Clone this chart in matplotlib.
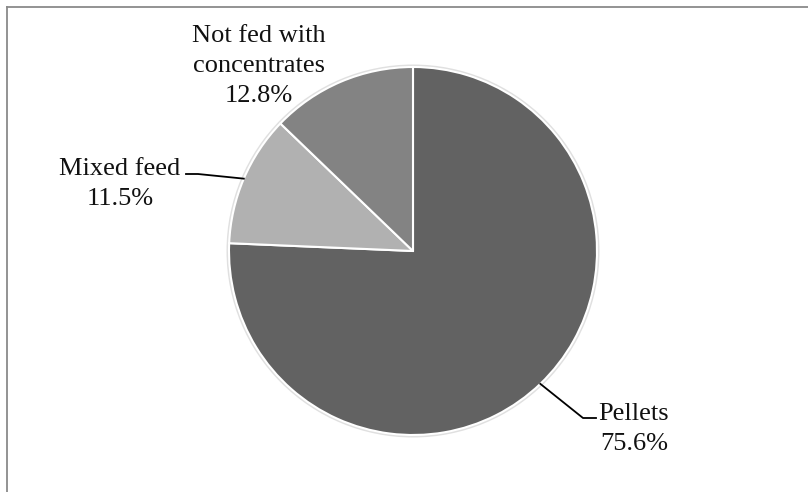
import matplotlib.pyplot as plt
import numpy as np
from matplotlib.patches import Circle
from matplotlib.lines import Line2D

# Share of farms by type of concentrate fed
labels = ['Pellets', 'Mixed feed', 'Not fed with\nconcentrates']
shares = [75.6, 11.5, 12.8]
colors = ['#626262', '#b1b1b1', '#838383']

W, H = 808, 492
plt.rcParams['font.family'] = ['Liberation Serif', 'DejaVu Serif']

fig = plt.figure(figsize=(W / 100, H / 100), dpi=100)
ax = fig.add_axes([0, 0, 1, 1])

cx, cy, r = 413, 251, 184

# soft rim around the pie
ax.add_patch(Circle((cx, cy), r + 2.5, facecolor='#e0e0e0', edgecolor='none', zorder=0))

wedges, _ = ax.pie(shares, colors=colors, startangle=-90, counterclock=True,
                   center=(cx, cy), radius=r, frame=True,
                   wedgeprops=dict(edgecolor='white', linewidth=1.5))
ax.set_xlim(0, W)
ax.set_ylim(H, 0)
ax.set_aspect('equal')
ax.axis('off')


def edge_point(w):
    mid = np.deg2rad((w.theta1 + w.theta2) / 2)
    return cx + r * np.cos(mid), cy + r * np.sin(mid)


# y of each label is the baseline of its last line
text_kw = dict(fontsize=19, color='#111111', ha='center', va='baseline',
               multialignment='center', linespacing=1.46)

# Pellets: leader goes down-right, then a short horizontal run
x0, y0 = edge_point(wedges[0])
ax.plot([x0, 583, 596], [y0, 418, 418], color='black', lw=1.3)
ax.text(634, 450, f'{labels[0]}\n{shares[0]:.1f}%', **text_kw)

# Mixed feed: leader goes left to the label
x1, y1 = edge_point(wedges[1])
ax.plot([x1, 198, 186], [y1, 174, 174], color='black', lw=1.3)
ax.text(120, 205, f'{labels[1]}\n{shares[1]:.1f}%', **text_kw)

# Not fed with concentrates: label above the slice, no leader
ax.text(259, 102, f'{labels[2]}\n{shares[2]:.1f}%', **text_kw)

# outer frame (top and left edges visible)
fig.add_artist(Line2D([6.5 / W, 1], [1 - 7 / H, 1 - 7 / H], color='#8a8a8a', lw=1.3))
fig.add_artist(Line2D([6.5 / W, 6.5 / W], [0, 1 - 7 / H], color='#8a8a8a', lw=1.3))

fig.savefig('out.png', dpi=100)
